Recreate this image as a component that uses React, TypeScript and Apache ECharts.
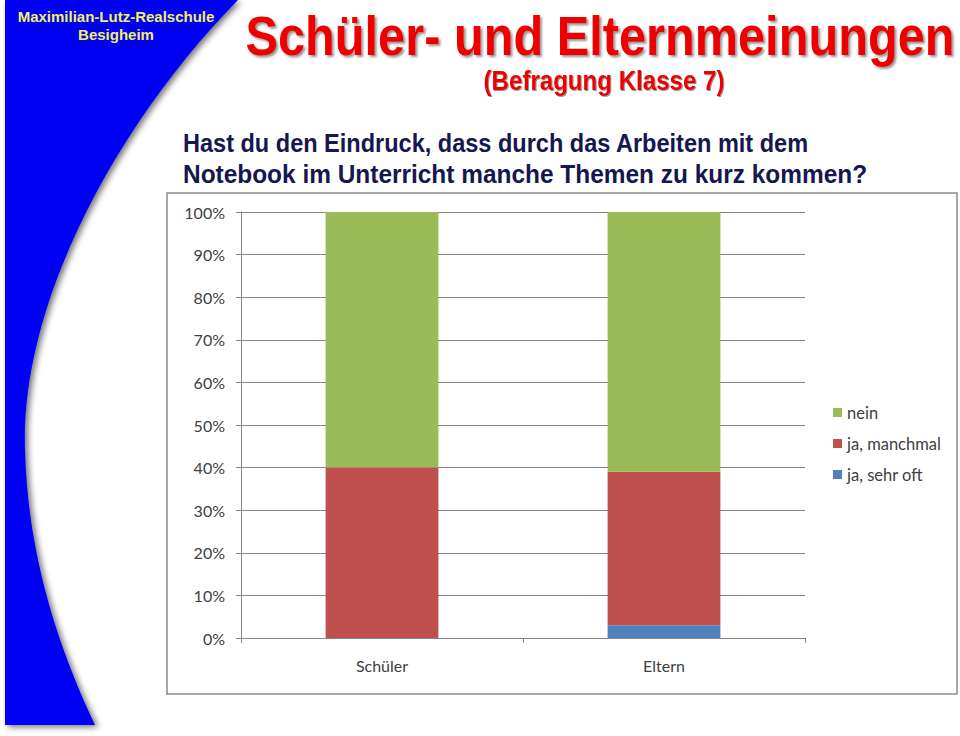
import React, { useEffect, useRef } from "react";
import * as echarts from "echarts";

const categories = ["Schüler", "Eltern"];
const seriesNames = ["ja, sehr oft", "ja, manchmal", "nein"];
const sehrOft = [0, 3];
const manchmal = [40, 36];
const nein = [60, 61];
const legendOrder = ["nein", "ja, manchmal", "ja, sehr oft"];
const colors = ["#4F81BD", "#C0504D", "#9BBB59"];

const swooshPath =
  "M5 0 L238 0 C 120 120, 20 300, 25 450 C 28 560, 60 650, 95 725 L5 725 Z";

let registered = false;

export default function App() {
  const ref = useRef<HTMLDivElement>(null);
  useEffect(() => {
    if (!ref.current) return;
    if (!registered) {
      echarts.graphic.registerShape("swoosh", echarts.graphic.extendPath(swooshPath, {}));
      registered = true;
    }
    const chart = echarts.init(ref.current, null, { renderer: "svg" });
    const values = [sehrOft, manchmal, nein];
    const axisGray = "#868686";
    const labelFont = "Lato, 'Open Sans', sans-serif";
    chart.setOption({
      animation: false,
      backgroundColor: "#ffffff",
      grid: { left: 241, right: 155, top: 212, bottom: 98, containLabel: false },
      legend: {
        orient: "vertical",
        left: 828,
        top: 399,
        itemWidth: 9,
        itemHeight: 9,
        itemGap: 14,
        icon: "rect",
        data: legendOrder,
        textStyle: { fontSize: 16.5, color: "#404040", fontFamily: labelFont },
      },
      xAxis: {
        type: "category",
        data: categories,
        axisLine: { lineStyle: { color: axisGray, width: 1 } },
        axisTick: { show: true, length: 5, lineStyle: { color: axisGray } },
        axisLabel: { margin: 19, fontSize: 16, color: "#404040", fontFamily: labelFont },
      },
      yAxis: {
        type: "value",
        min: 0,
        max: 100,
        interval: 10,
        axisLine: { show: true, lineStyle: { color: axisGray, width: 1 } },
        axisTick: { show: true, length: 5, lineStyle: { color: axisGray } },
        axisLabel: { formatter: "{value}%", margin: 16, fontSize: 16, color: "#404040", fontFamily: labelFont },
        splitLine: { lineStyle: { color: axisGray, width: 1 } },
      },
      series: seriesNames.map((name, i) => ({
        name,
        type: "bar",
        stack: "total",
        barWidth: "40%",
        itemStyle: { color: colors[i] },
        data: values[i],
      })),
      graphic: [
        {
          type: "swoosh",
          x: 0,
          y: 0,
          scaleX: 1,
          scaleY: 1,
          z: 1,
          style: {
            fill: "#0000f5",
            shadowBlur: 6,
            shadowColor: "rgba(0,0,0,0.55)",
            shadowOffsetX: 3,
            shadowOffsetY: 2,
          },
        },
        {
          type: "text",
          x: 116,
          y: 16,
          z: 2,
          style: {
            text: "Maximilian-Lutz-Realschule",
            font: "bold 15px 'Liberation Sans', Arial, sans-serif",
            fill: "#f2f060",
            textAlign: "center",
            textVerticalAlign: "middle",
          },
        },
        {
          type: "text",
          x: 116,
          y: 34,
          z: 2,
          style: {
            text: "Besigheim",
            font: "bold 15px 'Liberation Sans', Arial, sans-serif",
            fill: "#f2f060",
            textAlign: "center",
            textVerticalAlign: "middle",
          },
        },
        {
          type: "text",
          x: 600,
          y: 35,
          scaleX: 0.87,
          z: 2,
          style: {
            text: "Schüler- und Elternmeinungen",
            font: "bold 56px 'Liberation Sans', Arial, sans-serif",
            fill: "#ee0000",
            textAlign: "center",
            textVerticalAlign: "middle",
            textShadowColor: "rgba(80,80,80,0.6)",
            textShadowOffsetX: 2,
            textShadowOffsetY: 2,
            textShadowBlur: 2,
          },
        },
        {
          type: "text",
          x: 604,
          y: 80,
          scaleX: 0.86,
          z: 2,
          style: {
            text: "(Befragung Klasse 7)",
            font: "bold 28px 'Liberation Sans', Arial, sans-serif",
            fill: "#ee0000",
            textAlign: "center",
            textVerticalAlign: "middle",
            textShadowColor: "rgba(80,80,80,0.6)",
            textShadowOffsetX: 1,
            textShadowOffsetY: 1,
            textShadowBlur: 1,
          },
        },
        {
          type: "text",
          x: 183,
          y: 143,
          scaleX: 0.905,
          z: 2,
          style: {
            text: "Hast du den Eindruck, dass durch das Arbeiten mit dem",
            font: "bold 26px 'Liberation Sans', Arial, sans-serif",
            fill: "#161650",
            textAlign: "left",
            textVerticalAlign: "middle",
          },
        },
        {
          type: "text",
          x: 183,
          y: 174,
          scaleX: 0.94,
          z: 2,
          style: {
            text: "Notebook im Unterricht manche Themen zu kurz kommen?",
            font: "bold 26px 'Liberation Sans', Arial, sans-serif",
            fill: "#161650",
            textAlign: "left",
            textVerticalAlign: "middle",
          },
        },
        {
          type: "rect",
          z: 0,
          shape: { x: 167, y: 193, width: 790, height: 501 },
          style: { fill: "none", stroke: "#8a8a8a", lineWidth: 1.5 },
        },
      ],
    });
    return () => chart.dispose();
  }, []);
  return (
    <div
      ref={ref}
      style={{ position: "fixed", left: 0, top: 0, width: 960, height: 736 }}
    />
  );
}
